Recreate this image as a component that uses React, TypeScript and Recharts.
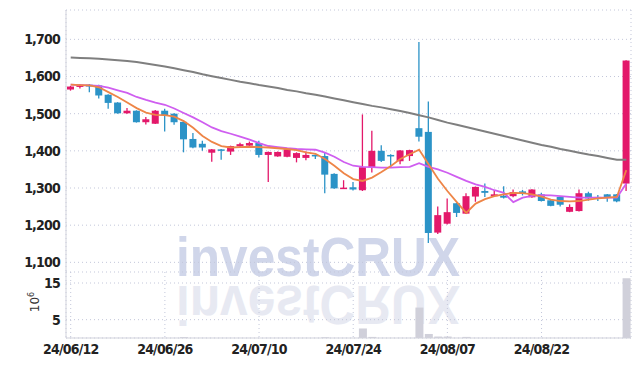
import React from 'react';
import { ComposedChart, Bar, Line, XAxis, YAxis, CartesianGrid } from 'recharts';

const dates = [
  '24/06/12', '24/06/13', '24/06/14', '24/06/17', '24/06/18', '24/06/19', '24/06/20', '24/06/21', '24/06/24', '24/06/25',
  '24/06/26', '24/06/27', '24/06/28', '24/07/01', '24/07/02', '24/07/03', '24/07/04', '24/07/05', '24/07/08', '24/07/09',
  '24/07/10', '24/07/11', '24/07/12', '24/07/15', '24/07/16', '24/07/17', '24/07/18', '24/07/19', '24/07/22', '24/07/23',
  '24/07/24', '24/07/25', '24/07/26', '24/07/29', '24/07/30', '24/07/31', '24/08/01', '24/08/02', '24/08/05', '24/08/06',
  '24/08/07', '24/08/08', '24/08/09', '24/08/12', '24/08/13', '24/08/14', '24/08/16', '24/08/19', '24/08/20', '24/08/21',
  '24/08/22', '24/08/23', '24/08/26', '24/08/27', '24/08/28', '24/08/29', '24/08/30', '24/09/02', '24/09/03', '24/09/04',
];

const opens = [
  1565, 1572, 1578, 1576, 1551, 1530, 1501, 1508, 1477, 1473,
  1508, 1500, 1478, 1432, 1419, 1395, 1404, 1398, 1412, 1414,
  1421, 1389, 1385, 1384, 1381, 1381, 1389, 1386, 1338, 1299,
  1302, 1294, 1356, 1400, 1389, 1372, 1386, 1461, 1451, 1180,
  1204, 1259, 1231, 1277, 1292, 1278, 1279, 1278, 1291, 1275,
  1283, 1267, 1276, 1236, 1238, 1286, 1276, 1283, 1283, 1312,
];
const highs = [
  1575, 1580, 1580, 1578, 1552, 1531, 1515, 1509, 1491, 1510,
  1513, 1501, 1480, 1448, 1427, 1405, 1405, 1414, 1422, 1425,
  1427, 1398, 1398, 1406, 1396, 1398, 1390, 1394, 1340, 1321,
  1316, 1498, 1454, 1415, 1391, 1402, 1403, 1693, 1533, 1250,
  1272, 1260, 1286, 1304, 1312, 1294, 1305, 1296, 1295, 1297,
  1287, 1268, 1277, 1256, 1296, 1290, 1281, 1284, 1284, 1644,
];
const lows = [
  1562, 1568, 1558, 1541, 1513, 1500, 1500, 1476, 1471, 1472,
  1452, 1470, 1396, 1407, 1400, 1371, 1376, 1389, 1411, 1413,
  1382, 1316, 1384, 1383, 1369, 1375, 1378, 1286, 1298, 1298,
  1293, 1292, 1342, 1370, 1355, 1364, 1373, 1425, 1152, 1176,
  1202, 1222, 1230, 1263, 1276, 1276, 1272, 1275, 1280, 1274,
  1264, 1251, 1250, 1235, 1237, 1266, 1265, 1263, 1262, 1292,
];
const closes = [
  1573, 1578, 1573, 1549, 1529, 1501, 1508, 1477, 1485, 1508,
  1496, 1477, 1431, 1409, 1409, 1404, 1400, 1413, 1418, 1421,
  1389, 1397, 1397, 1404, 1394, 1389, 1385, 1336, 1299, 1301,
  1296, 1356, 1400, 1373, 1385, 1401, 1402, 1438, 1179, 1227,
  1235, 1233, 1278, 1303, 1287, 1283, 1274, 1289, 1284, 1296,
  1265, 1252, 1255, 1249, 1286, 1272, 1271, 1274, 1264, 1643,
];

const ma5 = [
  1578, 1577, 1576, 1571, 1558, 1545, 1530, 1515, 1503, 1497,
  1496, 1492, 1480, 1462, 1440, 1424, 1413, 1409, 1410, 1411,
  1410, 1409, 1407, 1405, 1402, 1396, 1392, 1378, 1360, 1340,
  1324, 1319, 1328, 1343, 1359, 1378, 1391, 1403, 1364, 1325,
  1292, 1262, 1233, 1258, 1270, 1278, 1283, 1287, 1286, 1283,
  1277, 1269, 1265, 1264, 1265, 1269, 1272, 1274, 1276, 1348,
];
const ma10 = [
  1578, 1577, 1576, 1575, 1570, 1563, 1556, 1545, 1537, 1530,
  1524, 1514, 1502, 1490, 1477, 1463, 1453, 1446, 1438, 1430,
  1421, 1413, 1410, 1407, 1405, 1404, 1403, 1395, 1384, 1370,
  1360, 1357, 1356, 1355, 1355, 1356, 1357, 1367, 1357, 1350,
  1341, 1330, 1319, 1310, 1303, 1294, 1287, 1262, 1274, 1279,
  1281, 1280, 1278, 1276, 1274, 1274, 1274, 1274, 1274, 1312,
];
const ma120 = [
  1651, 1650, 1649, 1648, 1646, 1644, 1642, 1639, 1635, 1631,
  1627, 1622, 1617, 1612, 1606, 1601, 1596, 1591, 1586, 1582,
  1577, 1573, 1569, 1564, 1560, 1555, 1551, 1546, 1541, 1536,
  1531, 1526, 1521, 1517, 1512, 1507, 1502, 1496, 1490, 1483,
  1476, 1470, 1464, 1458, 1452, 1446, 1440, 1434, 1428, 1422,
  1416, 1411, 1405, 1400, 1395, 1390, 1386, 1381, 1376, 1376,
];
// volume in millions of shares
const volumes = [
  0.02, 0.02, 0.02, 0.02, 0.02, 0.02, 0.02, 0.02, 0.02, 0.02,
  0.02, 0.02, 0.25, 0.02, 0.02, 0.02, 0.02, 0.02, 0.02, 0.02,
  0.02, 0.02, 0.02, 0.02, 0.02, 0.02, 0.02, 0.2, 0.02, 0.02,
  0.02, 2.6, 0.3, 0.02, 0.02, 0.02, 0.02, 8.3, 1.1, 0.4,
  0.4, 0.02, 0.3, 0.02, 0.02, 0.02, 0.02, 0.02, 0.02, 0.02,
  0.02, 0.02, 0.02, 0.02, 0.02, 0.02, 0.02, 0.02, 0.02, 16.3,
];

const tickDates = ['24/06/12', '24/06/26', '24/07/10', '24/07/24', '24/08/07', '24/08/22'];
const priceTicks = [1100, 1200, 1300, 1400, 1500, 1600, 1700];
const volumeTicks = [5, 10, 15];

const rows = dates.map((d, i) => ({
  date: d,
  open: opens[i],
  high: highs[i],
  low: lows[i],
  close: closes[i],
  range: [lows[i], highs[i]],
  ma5: ma5[i],
  ma10: ma10[i],
  ma120: ma120[i],
  vol: volumes[i],
}));

const RED = '#e3186a';
const BLUE = '#2b93c7';
const GRID = '#c3c7da';
const BORDER = '#d2d3dc';
const FONT = "'Liberation Sans Narrow', 'DejaVu Sans Condensed', 'Arial Narrow', sans-serif";

const fmt = (v: number) => String(v).replace(/\B(?=(\d{3})+(?!\d))/g, ',');

const Candle = (props: any) => {
  const { x, y, width, height, payload } = props;
  if (!payload) return null;
  const { open, close, high, low } = payload;
  const top = Math.min(y, y + height);
  const h = Math.abs(height);
  const pix = (v: number) => top + ((high - v) / (high - low)) * h;
  const up = close >= open;
  const color = up ? RED : BLUE;
  const cx = x + width / 2;
  const bTop = pix(Math.max(open, close));
  const bBot = pix(Math.min(open, close));
  return (
    <g>
      <line x1={cx} x2={cx} y1={pix(high)} y2={pix(low)} stroke={color} strokeWidth={1.3} />
      <rect x={x} y={bTop} width={width} height={Math.max(bBot - bTop, 1.5)} fill={color} />
    </g>
  );
};

const tickStyle = { fontSize: 14, fill: '#222', fontFamily: FONT, fontWeight: 'bold', letterSpacing: -0.8 };

export default function App() {
  return (
    <div style={{ position: 'absolute', left: 0, top: 0, width: 639, height: 366, background: '#fff' }}>
      <svg width={639} height={366} style={{ position: 'absolute', left: 0, top: 0 }}>
        <text x={176} y={276} fontSize={56} fontWeight="bold" fill="#d0d6ea" fontFamily="'Liberation Sans', sans-serif" textLength={284} lengthAdjust="spacingAndGlyphs">investCRUX</text>
        <g transform="translate(0,562) scale(1,-1)">
          <text x={176} y={276} fontSize={56} fontWeight="bold" fill="#e7e9f2" fontFamily="'Liberation Sans', sans-serif" textLength={284} lengthAdjust="spacingAndGlyphs">investCRUX</text>
        </g>
      </svg>
      <div style={{ position: 'absolute', left: 0, top: 0 }}>
        <ComposedChart width={639} height={272} data={rows} margin={{ top: 10, right: 8, left: 0, bottom: 0 }}>
          <CartesianGrid stroke={GRID} strokeDasharray="1 3" />
          <XAxis dataKey="date" ticks={tickDates} interval={0} height={0} tick={false} tickLine={false} axisLine={{ stroke: BORDER }} />
          <YAxis domain={[1074, 1779]} ticks={priceTicks} width={66} tickFormatter={fmt} axisLine={{ stroke: BORDER }} tickLine={false} tickSize={4} tickMargin={2} tick={tickStyle} />
          <YAxis yAxisId="r" orientation="right" width={0} tick={false} tickLine={false} axisLine={{ stroke: BORDER }} />
          <Bar dataKey="range" barSize={7} shape={Candle} isAnimationActive={false} />
          <Line dataKey="ma120" stroke="#7f7f7f" strokeWidth={2} dot={false} type="linear" isAnimationActive={false} />
          <Line dataKey="ma10" stroke="#cf5ef0" strokeWidth={1.8} dot={false} type="linear" isAnimationActive={false} />
          <Line dataKey="ma5" stroke="#ee8547" strokeWidth={1.8} dot={false} type="linear" isAnimationActive={false} />
        </ComposedChart>
      </div>
      <div style={{ position: 'absolute', left: 0, top: 272 }}>
        <ComposedChart width={639} height={94} data={rows} margin={{ top: 0, right: 8, left: 0, bottom: 0 }}>
          <CartesianGrid stroke={GRID} strokeDasharray="1 3" />
          <XAxis dataKey="date" ticks={tickDates} interval={0} height={28} tickLine={false} tickSize={5} tickMargin={1} axisLine={{ stroke: BORDER }} tick={{ ...tickStyle, fontSize: 14 }} />
          <YAxis domain={[0, 18]} ticks={volumeTicks} width={66} axisLine={{ stroke: BORDER }} tickLine={false} tickSize={4} tickMargin={2} tick={tickStyle} />
          <YAxis yAxisId="r" orientation="right" width={0} tick={false} tickLine={false} axisLine={{ stroke: BORDER }} />
          <Bar dataKey="vol" barSize={8} fill="#d0d0da" isAnimationActive={false} />
        </ComposedChart>
      </div>
      <svg width={80} height={366} style={{ position: 'absolute', left: 0, top: 0, pointerEvents: 'none' }}>
        <text transform="translate(39,302) rotate(-90)" textAnchor="middle" fontSize={12} fill="#333" fontFamily="'DejaVu Sans', sans-serif">
          10<tspan dy={-5} fontSize={8}>6</tspan>
        </text>
      </svg>
    </div>
  );
}
